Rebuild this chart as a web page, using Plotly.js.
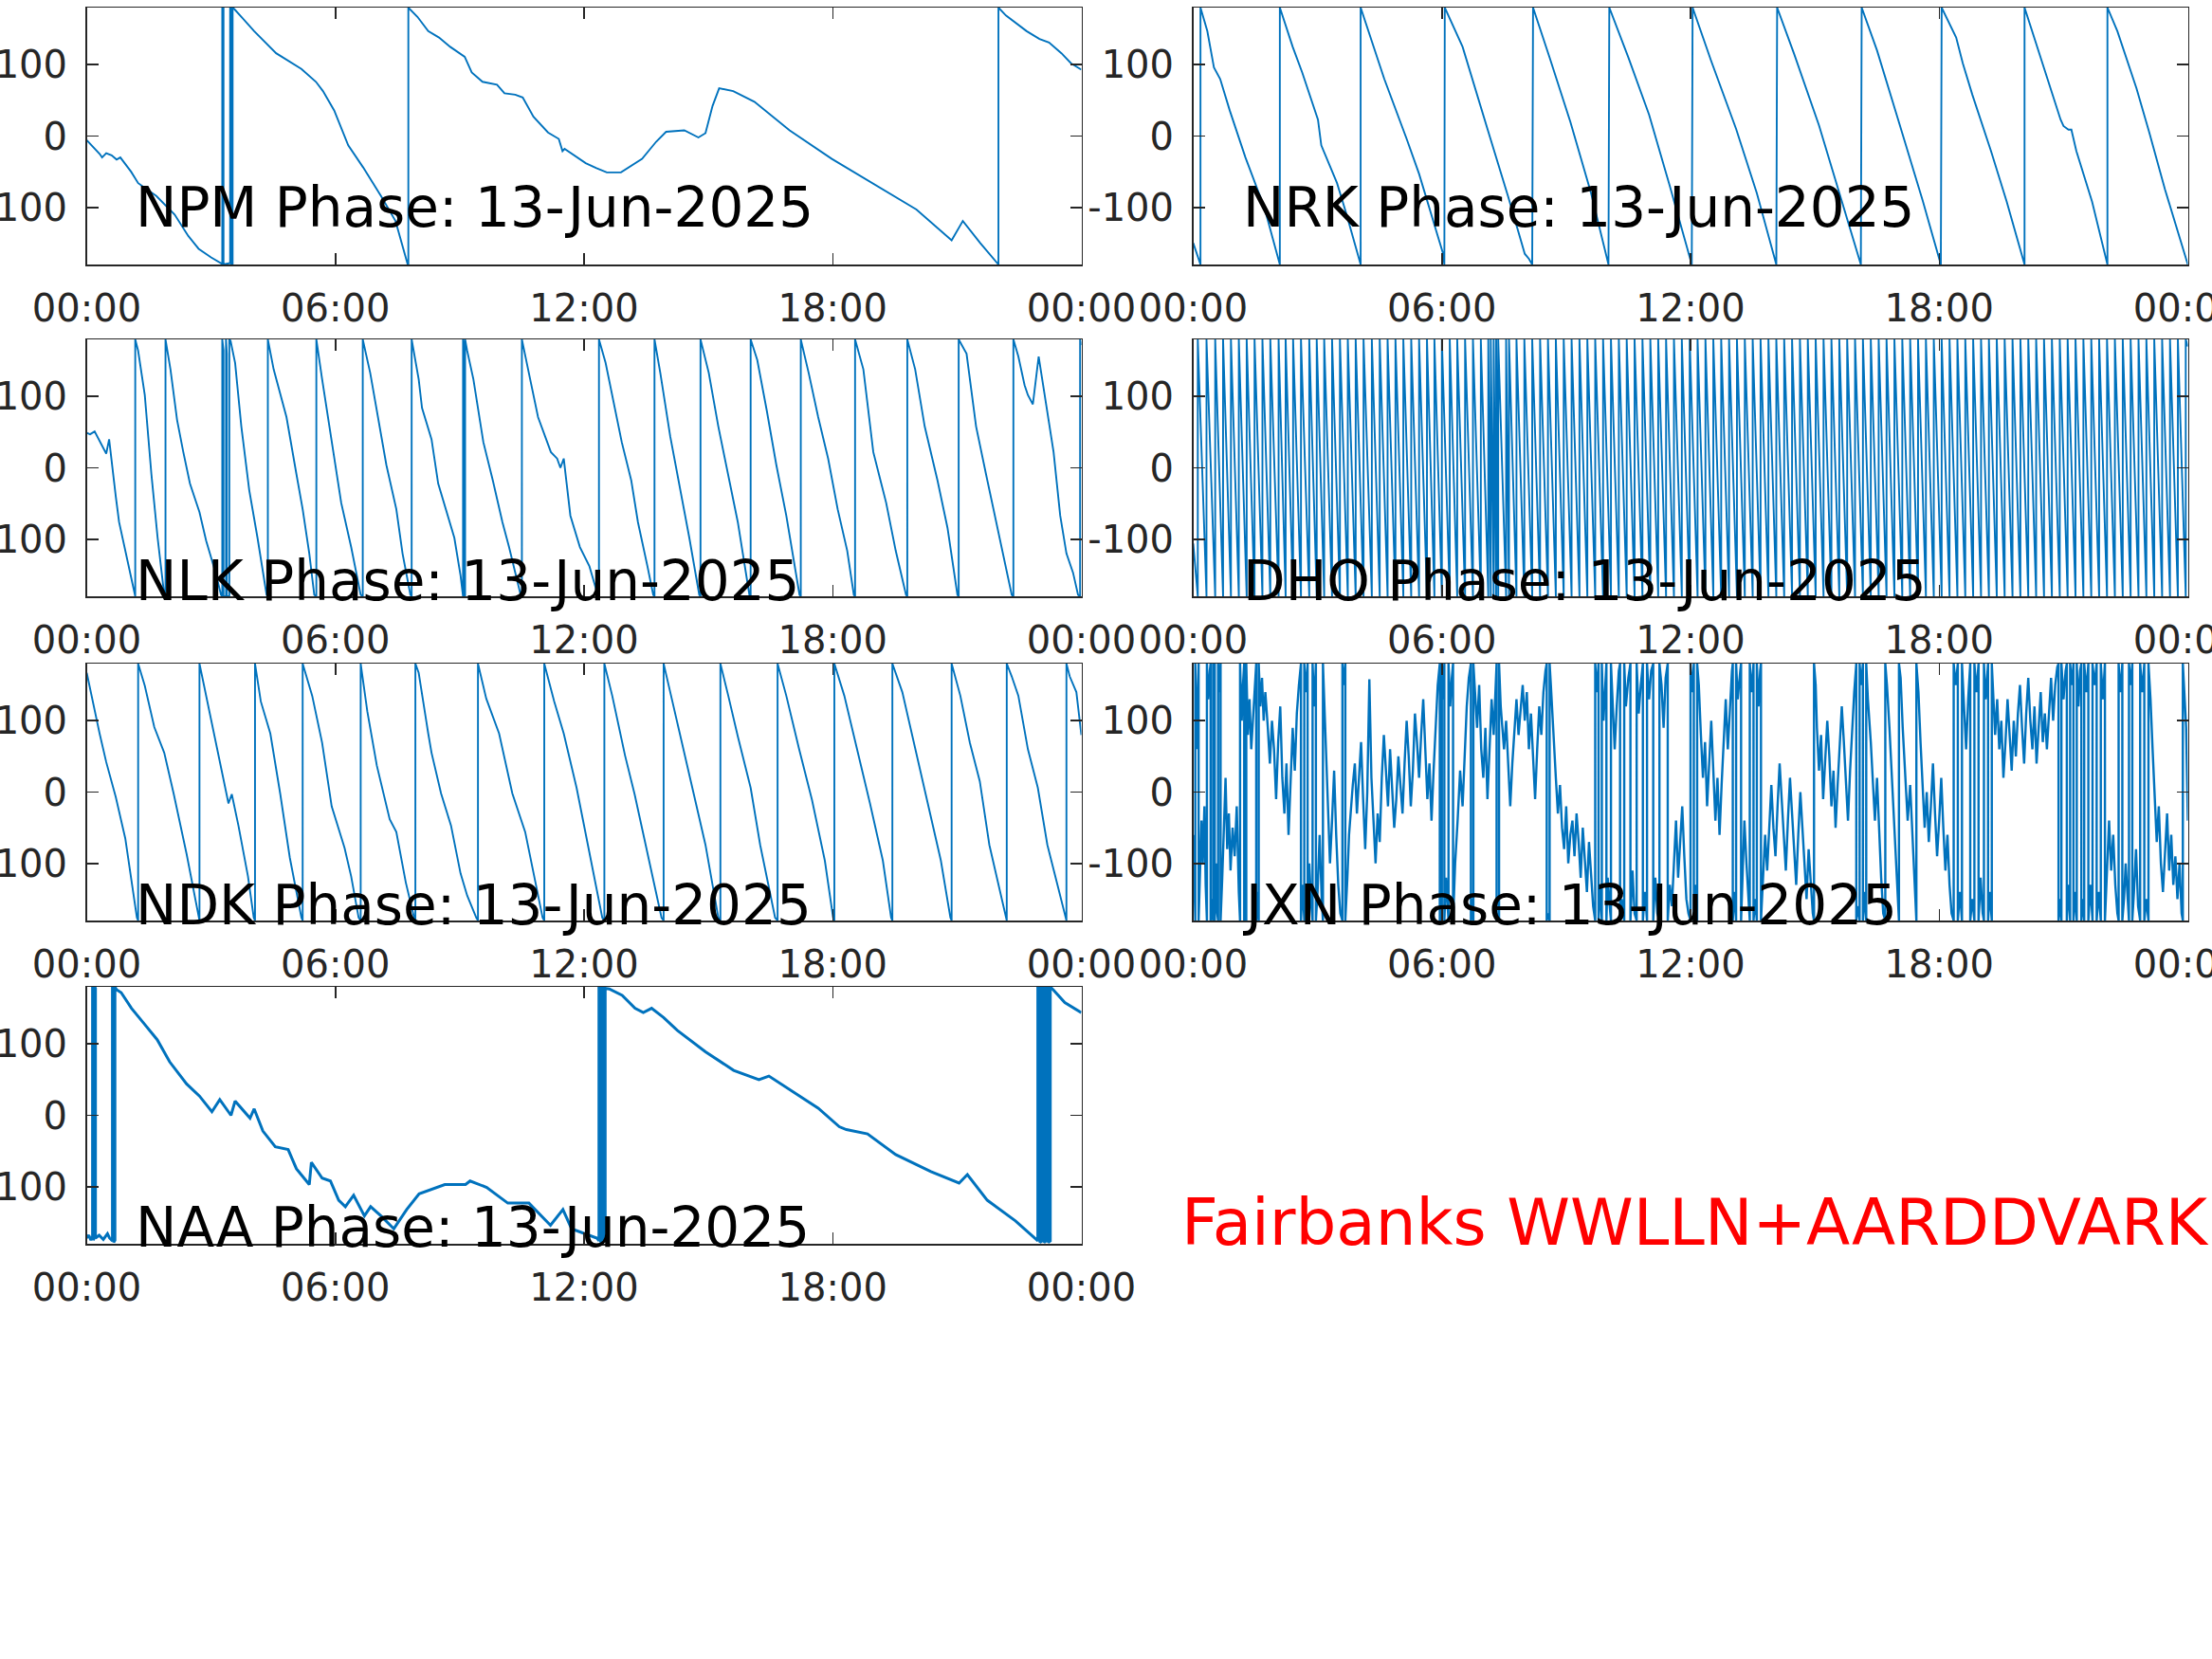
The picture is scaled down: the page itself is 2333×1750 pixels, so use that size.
<!DOCTYPE html>
<html><head><meta charset="utf-8">
<script src="https://cdn.plot.ly/plotly-3.0.1.min.js"></script>
<style>html,body{margin:0;padding:0;background:#fff;overflow:hidden}</style>
</head><body><div id="chart" style="width:2333px;height:1750px"></div>
<script>
// ---------- DATA (hour of day, phase in degrees) ----------
const dateLabel = '13-Jun-2025';
const timeTicks = ['00:00','06:00','12:00','18:00','00:00'];
const tickHours = [0,6,12,18,24];
const phaseTicks = [-100,0,100];
const phaseTickText = ['-100','0','100'];
const footerText = 'Fairbanks WWLLN+AARDDVARK';

const NPM = [[0,-6],[0.15,-15],[0.31,-25],[0.37,-30],[0.47,-24],[0.60,-27],[0.72,-33],[0.81,-30],[1.07,-50],[1.24,-66],[1.50,-77],[1.68,-84],[2.12,-110],[2.45,-140],[2.70,-158],[3.0,-170],[3.26,-179],
[3.27,-180],[3.27,180],[3.30,180],[3.30,-180],[3.46,-178],[3.46,180],[3.48,180],[3.48,-180],[3.52,-180],[3.52,180],
[3.56,178],[4.04,147],[4.57,116],[5.18,94],[5.53,76],[5.70,63],[5.97,36],[6.31,-13],[6.67,-44],[7.1,-84],[7.45,-119],[7.74,-179],[7.76,-180],[7.76,180],
[7.98,167],[8.24,147],[8.5,138],[8.77,125],[9.12,111],[9.29,89],[9.55,76],[9.9,72],[10.08,60],[10.34,58],[10.52,54],[10.78,27],[11.13,5],[11.39,-4],[11.48,-21],[11.53,-18],[12.04,-38],[12.3,-45],[12.55,-51],[12.89,-51],[13.40,-32],[13.74,-8],[13.98,6],[14.42,8],[14.76,-2],[14.93,4],[15.10,42],[15.26,67],[15.6,63],[16.11,48],[16.96,8],[17.98,-32],[19.0,-67],[20.02,-103],[20.87,-146],[21.14,-119],[21.56,-150],[21.96,-178],[22.0,-180],[22.0,180],
[22.18,169],[22.68,147],[22.99,136],[23.22,131],[23.52,116],[23.75,102],[24.0,93]];

const NRK = [[0,-150],[0.17,-179],[0.175,-180],[0.175,180],[0.34,147],[0.50,96],[0.65,80],[0.88,36],[1.26,-30],[1.72,-101],[2.07,-179],[2.09,-180],[2.09,180],
[2.40,125],[2.63,89],[3.01,23],[3.09,-13],[3.47,-66],[3.70,-110],[4.03,-179],[4.04,-180],[4.04,180],
[4.31,134],[4.61,80],[5.15,-4],[5.45,-53],[6.02,-163],[6.06,-180],[6.07,180],
[6.5,125],[7.1,10],[7.6,-85],[8.0,-165],[8.1,-172],[8.18,-180],[8.20,180],
[8.6,110],[9.1,20],[9.6,-80],[10.02,-180],[10.04,180],
[10.5,110],[11.0,30],[11.5,-70],[12.03,-180],[12.05,180],
[12.5,105],[13.1,10],[13.6,-80],[14.07,-180],[14.09,180],
[14.5,115],[15.1,15],[15.6,-80],[16.11,-180],[16.13,180],
[16.5,120],[17.0,25],[17.6,-90],[18.04,-180],[18.06,180],
[18.41,138],[18.57,102],[18.80,58],[19.25,-21],[19.63,-92],[20.04,-176],[20.06,-180],[20.06,180],
[20.32,133],[20.55,94],[20.93,23],[21.0,14],[21.12,9],[21.19,9],[21.31,-21],[21.69,-92],[22.04,-172],[22.06,-180],[22.06,180],
[22.30,147],[22.76,67],[23.07,5],[23.45,-75],[23.99,-176],[24,-180]];

const NLK = [[0,49],[0.08,47],[0.19,51],[0.31,38],[0.47,20],[0.54,40],[0.62,-4],[0.70,-40],[0.78,-76],[0.93,-116],[1.06,-151],[1.15,-178],[1.17,-180],[1.17,180],
[1.24,164],[1.40,102],[1.56,-9],[1.71,-98],[1.87,-178],[1.90,-180],[1.90,180],
[2.02,138],[2.18,67],[2.33,22],[2.49,-22],[2.72,-62],[2.88,-102],[3.11,-147],[3.24,-178],[3.27,-180],[3.27,180],[3.30,165],[3.30,-180],[3.36,-180],[3.36,180],[3.38,160],[3.38,-180],[3.44,-180],[3.44,180],
[3.47,178],[3.58,147],[3.73,58],[3.92,-31],[4.12,-98],[4.34,-178],[4.37,-180],[4.37,180],
[4.51,138],[4.67,102],[4.82,71],[5.06,-9],[5.21,-58],[5.37,-120],[5.49,-178],[5.54,-180],[5.54,180],
[5.68,124],[5.91,36],[6.14,-49],[6.38,-111],[6.61,-178],[6.66,-180],[6.66,180],
[6.84,133],[7.0,80],[7.23,4],[7.47,-58],[7.62,-120],[7.81,-178],[7.84,-180],[7.84,180],
[8.01,124],[8.09,84],[8.32,40],[8.48,-22],[8.71,-67],[8.87,-98],[9.02,-151],[9.08,-180],[9.08,180],[9.10,170],[9.10,-180],[9.13,-180],[9.13,180],
[9.18,164],[9.33,124],[9.57,36],[9.80,-18],[10.03,-76],[10.19,-111],[10.34,-147],[10.47,-178],[10.50,-180],[10.50,180],
[10.65,138],[10.89,71],[11.2,22],[11.35,13],[11.43,0],[11.51,13],[11.67,-67],[11.90,-111],[12.13,-138],[12.33,-178],[12.36,-180],[12.36,180],
[12.52,147],[12.68,102],[12.91,36],[13.14,-18],[13.30,-76],[13.53,-138],[13.67,-178],[13.70,-180],[13.70,180],
[13.84,133],[14.08,44],[14.31,-27],[14.54,-98],[14.78,-178],[14.81,-180],[14.81,180],
[15.01,133],[15.24,58],[15.48,-9],[15.71,-76],[15.99,-178],[16.02,-180],[16.02,180],
[16.18,151],[16.41,80],[16.64,4],[16.88,-67],[17.20,-178],[17.23,-180],[17.23,180],
[17.42,133],[17.65,71],[17.89,13],[18.12,-58],[18.35,-116],[18.51,-178],[18.54,-180],[18.54,180],
[18.74,138],[18.98,22],[19.29,-49],[19.52,-116],[19.77,-178],[19.80,-180],[19.80,180],
[19.99,138],[20.22,58],[20.53,-18],[20.77,-84],[21.01,-178],[21.04,-180],[21.04,180],
[21.23,160],[21.46,58],[21.70,-9],[22.01,-93],[22.32,-178],[22.36,-180],[22.36,180],
[22.48,156],[22.63,116],[22.71,102],[22.83,89],[22.97,156],[23.18,80],[23.33,22],[23.49,-67],[23.64,-120],[23.80,-147],[23.92,-178],[23.97,-180],[23.97,180],[24,172]];

// DHO: start value, times of each -180 -> +180 wrap, end value
const DHO_start = -106;
const DHO_wraps = [0.11,0.32,0.53,0.72,0.91,1.10,1.29,1.48,1.67,1.86,2.06,2.23,2.41,2.60,2.80,2.98,3.16,3.35,3.54,3.73,3.92,4.11,4.31,4.50,4.69,4.88,5.07,5.26,5.45,5.64,5.82,6.00,6.19,6.37,6.56,6.75,6.94,7.12,7.18,7.25,7.31,7.36,7.55,7.62,7.80,7.99,8.18,8.37,8.56,8.75,8.94,9.13,9.32,9.51,9.70,9.89,10.08,10.27,10.46,10.65,10.84,11.03,11.22,11.41,11.60,11.79,11.98,12.17,12.36,12.55,12.74,12.93,13.12,13.31,13.50,13.69,13.88,14.07,14.26,14.45,14.64,14.83,15.02,15.21,15.40,15.59,15.78,15.97,16.16,16.35,16.54,16.73,16.92,17.11,17.30,17.49,17.68,17.87,18.06,18.25,18.44,18.63,18.82,19.01,19.20,19.39,19.58,19.77,19.96,20.15,20.34,20.53,20.72,20.91,21.10,21.29,21.48,21.67,21.86,22.05,22.24,22.43,22.62,22.81,23.00,23.19,23.38,23.57,23.76,23.95];
const DHO_end = 170;

const NDK = [[0,167],[0.16,122],[0.31,82],[0.47,42],[0.70,-7],[0.93,-65],[1.21,-176],[1.24,-180],[1.24,180],
[1.40,149],[1.63,91],[1.87,55],[2.10,-3],[2.41,-87],[2.69,-176],[2.72,-180],[2.72,180],
[2.88,135],[3.14,60],[3.42,-16],[3.50,-3],[3.66,-47],[3.89,-118],[4.03,-176],[4.06,-180],[4.06,180],
[4.20,127],[4.43,82],[4.67,-3],[4.90,-92],[5.18,-176],[5.21,-180],[5.21,180],
[5.37,149],[5.44,135],[5.68,69],[5.91,-20],[6.22,-78],[6.38,-118],[6.56,-176],[6.61,-180],[6.61,180],
[6.77,113],[7.0,37],[7.31,-38],[7.47,-56],[7.70,-127],[7.90,-176],[7.93,-180],[7.93,180],
[8.01,167],[8.24,82],[8.32,55],[8.55,-2],[8.79,-47],[9.02,-114],[9.18,-145],[9.40,-176],[9.44,-180],[9.44,180],
[9.64,131],[9.95,82],[10.27,-2],[10.58,-56],[11.0,-176],[11.04,-180],[11.04,180],
[11.28,127],[11.51,82],[11.82,6],[12.13,-83],[12.44,-176],[12.49,-180],[12.49,180],
[12.68,135],[12.99,51],[13.22,-3],[13.53,-87],[13.87,-176],[13.92,-180],[13.92,180],
[14.08,140],[14.39,60],[14.70,-16],[14.93,-74],[15.24,-176],[15.29,-180],[15.29,180],
[15.48,135],[15.71,78],[16.02,6],[16.25,-74],[16.61,-176],[16.67,-180],[16.67,180],
[16.88,135],[17.19,60],[17.50,-11],[17.81,-96],[18.01,-176],[18.04,-180],[18.04,180],
[18.28,135],[18.59,60],[18.90,-16],[19.21,-96],[19.41,-176],[19.44,-180],[19.44,180],
[19.68,140],[19.99,60],[20.30,-20],[20.61,-96],[20.84,-176],[20.87,-180],[20.87,180],
[21.08,135],[21.31,69],[21.55,15],[21.78,-74],[22.17,-176],[22.20,-180],[22.20,180],
[22.32,162],[22.48,135],[22.71,60],[22.95,6],[23.18,-74],[23.41,-127],[23.61,-176],[23.64,-180],[23.64,180],
[23.72,162],[23.88,140],[24,80]];

const JXN = [[0,-60],[0.03,-150],[0.05,-180],[0.05,180],[0.08,120],[0.10,60],[0.12,150],[0.13,180],[0.13,-180],[0.16,-120],[0.2,-40],[0.23,-100],[0.27,-20],[0.3,-130],[0.33,-180],[0.33,180],[0.36,130],[0.4,170],[0.42,180],[0.42,-180],[0.45,-150],[0.48,-180],[0.48,180],[0.5,150],[0.52,180],[0.52,-180],[0.55,-100],[0.58,-170],[0.6,-180],[0.6,180],[0.63,140],[0.66,180],[0.66,-180],[0.7,-120],[0.73,-60],
[0.78,20],[0.82,-80],[0.86,-30],[0.9,-110],[0.95,-50],[1.0,-90],[1.05,-20],[1.1,-140],
[1.13,-180],[1.13,180],[1.17,100],[1.2,150],[1.23,180],[1.23,-180],[1.26,-160],[1.28,-180],[1.28,180],[1.32,80],[1.36,130],[1.4,60],[1.45,110],[1.5,170],[1.52,180],[1.52,-180],[1.55,-140],[1.58,-180],[1.58,180],[1.62,120],[1.66,160],[1.7,100],[1.74,140],
[1.8,90],[1.85,40],[1.9,100],[1.95,60],[2.0,-10],[2.05,70],[2.1,120],[2.15,20],[2.2,-30],[2.25,40],[2.3,-60],[2.35,10],[2.4,90],[2.45,30],[2.5,110],[2.55,150],
[2.6,180],[2.6,-180],[2.64,-130],[2.68,-180],[2.68,180],[2.72,140],[2.76,180],[2.76,-180],[2.8,-100],[2.85,-160],[2.88,-180],[2.88,180],[2.92,120],[2.96,180],[2.96,-180],[3.0,-140],[3.05,-60],[3.1,-150],[3.13,-180],[3.13,180],[3.16,130],[3.2,70],
[3.25,-20],[3.3,-100],[3.35,-40],[3.4,30],[3.45,-60],[3.5,-130],[3.55,-170],
[3.6,-180],[3.6,180],[3.64,150],[3.67,180],[3.67,-180],[3.72,-120],[3.76,-60],
[3.85,10],[3.9,40],[3.95,-30],[4.0,20],[4.05,70],[4.1,-10],[4.15,-80],[4.2,0],[4.25,158],[4.3,20],[4.35,-40],[4.4,-100],[4.45,-30],[4.5,-70],[4.55,20],[4.6,80],[4.65,30],[4.7,-20],[4.75,60],[4.8,0],[4.85,-50],[4.9,-10],[4.95,50],[5.0,10],[5.05,-30],[5.1,40],[5.15,100],[5.2,50],[5.25,-20],[5.3,30],[5.35,110],[5.4,70],[5.45,20],[5.5,80],[5.55,130],[5.6,60],[5.65,-10],[5.7,40],[5.75,-40],[5.8,30],[5.85,100],[5.9,150],
[5.95,180],[5.95,-180],[5.98,-140],[6.0,-180],[6.0,180],[6.03,130],[6.06,180],[6.06,-180],[6.1,-120],[6.14,-170],[6.16,-180],[6.16,180],[6.2,120],[6.24,160],[6.27,180],[6.27,-180],
[6.32,-100],[6.38,-40],[6.44,30],[6.5,-20],[6.55,50],[6.6,120],[6.65,160],
[6.7,180],[6.7,-180],[6.74,-150],[6.76,-180],[6.76,180],
[6.8,140],[6.85,90],[6.9,150],[6.95,60],[7.0,20],[7.05,90],[7.1,-10],[7.15,60],[7.2,130],[7.25,80],[7.3,170],[7.32,180],[7.32,-180],[7.35,-170],[7.38,-180],[7.38,180],[7.42,120],[7.5,60],[7.55,100],[7.6,30],[7.65,-20],[7.7,40],[7.75,90],[7.8,130],[7.85,80],[7.9,110],[7.95,150],[8.0,100],[8.05,140],[8.1,60],[8.15,110],[8.2,50],[8.25,-10],[8.3,60],[8.35,120],[8.4,80],[8.45,140],[8.5,170],
[8.53,180],[8.53,-180],[8.56,-170],[8.6,-180],[8.6,180],[8.63,150],
[8.68,90],[8.75,20],[8.8,-30],[8.85,10],[8.9,-50],[8.95,-80],[9.0,-20],[9.05,-100],[9.1,-60],[9.15,-40],[9.2,-90],[9.25,-30],[9.3,-70],[9.35,-120],[9.4,-50],[9.45,-90],[9.5,-140],[9.55,-70],[9.6,-110],[9.65,-160],
[9.7,-180],[9.7,180],[9.74,140],[9.78,180],[9.78,-180],[9.82,-130],[9.86,-180],[9.86,180],[9.9,100],[9.94,150],[9.97,180],[9.97,-180],[10.0,-120],[10.05,-160],[10.08,-180],[10.08,180],[10.12,130],[10.17,60],[10.22,120],[10.27,170],[10.3,180],[10.3,-180],[10.34,-150],[10.4,-180],[10.4,180],[10.44,120],[10.5,160],[10.55,180],[10.55,-180],[10.6,-110],[10.65,-170],[10.7,-180],[10.7,180],[10.75,110],[10.8,150],[10.85,180],[10.85,-180],[10.9,-140],[10.95,-180],[10.95,180],[11.0,130],[11.05,170],[11.1,180],[11.1,-180],[11.15,-120],[11.2,-170],[11.25,-180],[11.25,180],[11.3,150],[11.35,90],[11.4,160],[11.45,180],[11.45,-180],[11.5,-130],[11.55,-160],
[11.6,-100],[11.65,-40],[11.7,-120],[11.75,-60],[11.8,-20],[11.85,-90],[11.9,-150],[11.95,-170],[12.0,-180],[12.0,180],[12.04,140],[12.08,180],[12.08,-180],[12.12,-130],[12.16,-180],[12.16,180],[12.2,150],
[12.25,80],[12.3,20],[12.35,70],[12.4,-20],[12.45,40],[12.5,100],[12.55,30],[12.6,-40],[12.65,20],[12.7,-60],[12.75,10],[12.8,80],[12.85,130],[12.9,60],[12.95,120],[13.0,170],
[13.02,180],[13.02,-180],[13.06,-140],[13.1,-180],[13.1,180],[13.14,130],[13.2,170],[13.22,180],[13.22,-180],[13.26,-120],[13.3,-40],[13.35,-100],[13.4,-160],[13.43,-180],[13.43,180],[13.47,140],[13.52,180],[13.52,-180],[13.56,-150],[13.6,-180],[13.6,180],[13.64,120],[13.68,170],[13.7,180],[13.7,-180],[13.74,-130],
[13.8,-60],[13.85,-110],[13.9,-40],[13.95,10],[14.0,-50],[14.05,-90],[14.1,-20],[14.15,40],[14.2,-10],[14.25,-70],[14.3,-110],[14.35,-40],[14.4,20],[14.45,-30],[14.5,-90],[14.55,-130],[14.6,-60],[14.65,0],[14.7,-50],[14.75,-100],[14.8,-150],[14.85,-80],[14.9,-130],[14.95,-170],[14.98,-180],[14.98,180],[15.02,150],
[15.05,90],[15.1,30],[15.15,80],[15.2,-10],[15.25,40],[15.3,100],[15.35,50],[15.4,-20],[15.45,30],[15.5,-50],[15.55,10],[15.6,60],[15.65,120],[15.7,70],[15.75,10],[15.8,-40],[15.85,30],[15.9,90],[15.95,140],
[16.0,180],[16.0,-180],[16.05,-160],[16.08,-180],[16.08,180],[16.12,150],[16.16,180],[16.16,-180],[16.2,-140],[16.24,-180],[16.24,180],[16.28,130],
[16.35,70],[16.4,10],[16.45,-40],[16.5,20],[16.55,-60],[16.6,-120],[16.65,-170],[16.7,-180],[16.7,180],[16.74,150],[16.8,90],[16.85,30],[16.9,-20],[16.95,-80],[17.0,-140],[17.03,-180],[17.03,180],[17.07,160],[17.12,90],[17.18,20],[17.24,-40],[17.3,10],[17.35,-60],[17.4,-130],[17.45,-180],[17.45,180],[17.5,140],[17.55,70],[17.6,10],[17.65,-50],[17.7,0],[17.75,-70],[17.8,-20],[17.85,40],[17.9,-30],[17.95,-90],[18.0,-40],[18.05,20],[18.1,-50],[18.15,-110],[18.2,-60],[18.25,-130],[18.3,-170],
[18.35,-180],[18.35,180],[18.4,150],[18.45,180],[18.45,-180],[18.5,-140],[18.55,-180],[18.55,180],[18.6,120],[18.65,60],[18.7,130],[18.75,180],[18.75,-180],[18.8,-150],[18.85,-180],[18.85,180],[18.9,140],[18.95,180],[18.95,-180],[19.0,-120],[19.05,-170],[19.08,-180],[19.08,180],[19.12,130],[19.18,180],[19.18,-180],[19.22,-140],[19.27,-180],[19.27,180],[19.3,140],
[19.35,80],[19.4,130],[19.45,60],[19.5,100],[19.55,20],[19.6,70],[19.65,130],[19.7,80],[19.75,30],[19.8,100],[19.85,50],[19.9,110],[19.95,150],[20.0,90],[20.05,40],[20.1,110],[20.15,160],[20.2,100],[20.25,60],[20.3,120],[20.35,40],[20.4,90],[20.45,140],[20.5,70],[20.55,110],[20.6,60],[20.65,120],[20.7,160],[20.75,100],[20.8,150],[20.85,175],
[20.88,180],[20.88,-180],[20.92,-150],[20.95,-180],[20.95,180],[21.0,130],[21.05,170],[21.08,180],[21.08,-180],[21.12,-130],[21.16,-180],[21.16,180],[21.2,150],[21.24,180],[21.24,-180],[21.28,-140],[21.32,-180],[21.32,180],[21.36,120],[21.4,170],[21.43,180],[21.43,-180],[21.47,-150],[21.5,-180],[21.5,180],[21.55,140],[21.6,180],[21.6,-180],[21.65,-130],[21.7,-180],[21.7,180],[21.75,150],[21.8,180],[21.8,-180],[21.85,-140],[21.9,-180],[21.9,180],[21.95,130],[22.0,180],[22.0,-180],
[22.05,-100],[22.1,-40],[22.15,-110],[22.2,-60],[22.25,-130],[22.3,-170],[22.33,-180],[22.33,180],[22.37,140],[22.42,180],[22.42,-180],[22.46,-150],[22.5,-100],[22.55,-160],[22.58,-180],[22.58,180],[22.62,150],[22.66,180],[22.66,-180],[22.7,-140],[22.75,-80],
[22.8,-160],[22.85,-180],[22.85,180],[22.9,140],[22.95,180],[22.95,-180],[23.0,-150],[23.05,-180],[23.05,180],[23.1,130],
[23.15,60],[23.2,-10],[23.25,-70],[23.3,-20],[23.35,-100],[23.4,-140],[23.45,-80],[23.5,-30],[23.55,-110],[23.6,-60],[23.65,-130],[23.7,-90],[23.75,-150],[23.8,-100],[23.85,-170],[23.88,-180],[23.88,180],[23.92,140],[23.96,90],[24.0,-40]];

const NAA = [[0,-172],[0.05,-168],[0.10,-175],[0.14,-170],[0.14,180],[0.16,180],[0.16,-175],[0.19,-170],[0.19,180],[0.21,178],[0.21,-172],[0.3,-168],[0.4,-174],[0.5,-166],[0.55,-172],[0.62,-176],[0.62,180],[0.65,178],[0.65,-178],[0.68,-175],[0.68,180],[0.72,176],
[0.83,172],[1.08,150],[1.39,128],[1.70,106],[2.00,75],[2.41,44],[2.72,27],[3.02,5],[3.21,22],[3.48,0],[3.58,20],[3.94,-4],[4.04,9],[4.25,-22],[4.55,-44],[4.86,-48],[5.06,-75],[5.37,-97],[5.42,-66],[5.68,-88],[5.88,-92],[6.08,-119],[6.24,-128],[6.44,-112],[6.70,-141],[6.85,-128],[7.10,-141],[7.41,-159],[7.72,-132],[8.02,-110],[8.64,-97],[9.14,-97],[9.25,-92],[9.65,-101],[10.16,-123],[10.67,-123],[11.19,-154],[11.49,-132],[11.70,-159],[12.31,-172],
[12.36,-176],[12.36,180],[12.40,178],[12.40,-178],[12.45,-175],[12.45,180],[12.48,178],[12.48,-176],[12.51,-176],[12.51,178],
[12.61,177],[12.92,168],[13.23,150],[13.43,144],[13.63,150],[13.92,137],[14.25,119],[14.93,89],[15.61,63],[16.22,50],[16.46,55],[16.97,36],[17.65,10],[18.16,-16],[18.33,-20],[18.84,-26],[19.52,-55],[20.37,-79],[21.05,-95],[21.25,-83],[21.73,-119],[22.41,-148],[22.92,-174],
[22.95,-176],[22.95,180],[23.0,178],[23.0,-178],[23.05,-176],[23.05,180],[23.1,178],[23.1,-178],[23.15,-176],[23.15,180],[23.2,178],[23.2,-178],[23.25,-176],[23.25,180],
[23.32,176],[23.6,158],[24,144]];

// ---------- BUILD ----------
function stamp(h){
  const d = new Date(Date.UTC(2025,5,13) + Math.round(h*3600000));
  const p = (n,k=2)=>String(n).padStart(k,'0');
  return `${d.getUTCFullYear()}-${p(d.getUTCMonth()+1)}-${p(d.getUTCDate())} ${p(d.getUTCHours())}:${p(d.getUTCMinutes())}:${p(d.getUTCSeconds())}.${p(d.getUTCMilliseconds(),3)}`;
}
function sawtooth(start, wraps, end){
  const pts=[[0,start]];
  wraps.forEach(w=>{pts.push([w,-180]);pts.push([w,180]);});
  pts.push([24,end]);
  return pts;
}
const DHO = sawtooth(DHO_start, DHO_wraps, DHO_end);

const W=2333, H=1750;
const colPx = [[91.5,1140.5],[1258.5,2307.5]];
const rowPx = [[8,279],[358,629],[700,971],[1041,1312]];
const panels = [
  {name:'NPM', data:NPM, r:0, c:0},
  {name:'NRK', data:NRK, r:0, c:1},
  {name:'NLK', data:NLK, r:1, c:0},
  {name:'DHO', data:DHO, r:1, c:1},
  {name:'NDK', data:NDK, r:2, c:0},
  {name:'JXN', data:JXN, r:2, c:1, w:2.4},
  {name:'NAA', data:NAA, r:3, c:0, w:3}
];
const titleBase = [239, 633, 975, 1315];
const titleLeft = [142, 1310];

const axColor='#262626';
const tickFont={family:'DejaVu Sans, Liberation Sans, sans-serif', size:40, color:axColor};
const traces=[], layout={
  width:W, height:H, margin:{l:0,r:0,t:0,b:0}, paper_bgcolor:'#fff', plot_bgcolor:'#fff',
  showlegend:false, annotations:[]
};
panels.forEach((p,i)=>{
  const k=i+1, xs=k===1?'':k, 
    xd=[colPx[p.c][0]/W, colPx[p.c][1]/W],
    yd=[1-rowPx[p.r][1]/H, 1-rowPx[p.r][0]/H];
  traces.push({type:'scatter', mode:'lines', x:p.data.map(d=>stamp(d[0])), y:p.data.map(d=>d[1]),
    xaxis:'x'+xs, yaxis:'y'+xs, line:{color:'#0072BD', width:p.w||1.9}, hoverinfo:'skip'});
  layout['xaxis'+xs]={domain:xd, anchor:'y'+xs, type:'date',
    range:[stamp(0),stamp(24)], tickvals:tickHours.map(stamp), ticktext:timeTicks,
    ticks:'inside', ticklen:12, tickwidth:1.5, tickcolor:axColor,
    showline:true, linecolor:axColor, linewidth:1.5, mirror:'ticks',
    showgrid:false, zeroline:false, tickfont:tickFont, ticklabeloverflow:'allow', ticklabelstandoff:10, fixedrange:true};
  layout['yaxis'+xs]={domain:yd, anchor:'x'+xs, range:[-180,180],
    tickvals:phaseTicks, ticktext:phaseTickText,
    ticks:'inside', ticklen:12, tickwidth:1.5, tickcolor:axColor,
    showline:true, linecolor:axColor, linewidth:1.5, mirror:'ticks',
    showgrid:false, zeroline:false, tickfont:tickFont, ticklabeloverflow:'allow', ticklabelstandoff:11, fixedrange:true};
  const fs=58;
  layout.annotations.push({xref:'paper', yref:'paper', x:titleLeft[p.c]/W, y:1-(titleBase[p.r]-0.346*fs)/H,
    xanchor:'left', yanchor:'middle', showarrow:false, text:`${p.name} Phase: ${dateLabel}`,
    font:{family:'DejaVu Sans, sans-serif', size:fs, color:'#000'}, borderpad:0});
});
layout.annotations.push({xref:'paper', yref:'paper', x:1245/W, y:1-(1313-0.346*67.5)/H,
  xanchor:'left', yanchor:'middle', showarrow:false, text:footerText,
  font:{family:'DejaVu Sans, sans-serif', size:67.5, color:'#ff0000'}, borderpad:0});

Plotly.newPlot('chart', traces, layout, {staticPlot:true, displayModeBar:false});
</script>
</body></html>
